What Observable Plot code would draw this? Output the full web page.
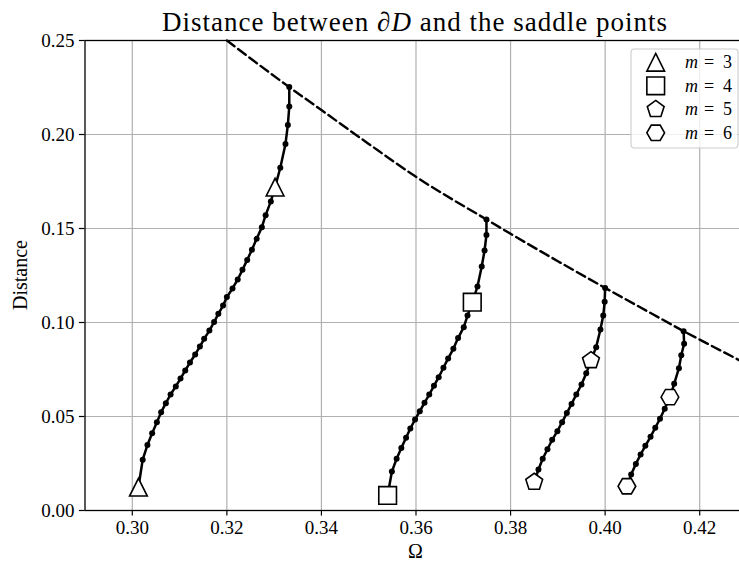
<!DOCTYPE html>
<html><head><meta charset="utf-8">
<script src="https://cdn.jsdelivr.net/npm/d3@7"></script>
<script src="https://cdn.jsdelivr.net/npm/@observablehq/plot@0.6"></script>
<style>
html,body{margin:0;padding:0;background:#fff;overflow:hidden;width:739px;height:563px;}
#chart{position:relative;width:739px;height:563px;overflow:hidden;}
#chart svg{max-width:none !important;width:760px !important;height:563px !important;display:block;}
</style></head><body><div id="chart"></div>
<script>
// ---- data ----
const omega3 = [0.3013,0.3022,0.3032,0.3042,0.3052,0.3061,0.3071,0.3081,0.3092,0.3102,0.3112,0.3122,0.3133,0.3143,0.3152,0.3163,0.3173,0.3182,0.3192,0.3200,0.3212,0.3223,0.3233,0.3243,0.3253,0.3263,0.3274,0.3282,0.3293,0.3302,0.3313,0.3324,0.3329,0.3332,0.3332];
const dist3  = [0.0124,0.0270,0.0348,0.0411,0.0470,0.0523,0.0571,0.0617,0.0660,0.0702,0.0745,0.0787,0.0830,0.0872,0.0913,0.0957,0.1002,0.1046,0.1090,0.1135,0.1181,0.1229,0.1280,0.1333,0.1387,0.1445,0.1507,0.1571,0.1644,0.1720,0.1823,0.1950,0.2051,0.2149,0.2252];
const omega4 = [0.3540,0.3549,0.3559,0.3569,0.3579,0.3588,0.3598,0.3608,0.3618,0.3628,0.3638,0.3648,0.3658,0.3668,0.3679,0.3689,0.3701,0.3709,0.3719,0.3730,0.3739,0.3745,0.3749,0.3749];
const dist4  = [0.0080,0.0207,0.0275,0.0333,0.0387,0.0436,0.0484,0.0528,0.0573,0.0617,0.0663,0.0709,0.0759,0.0809,0.0860,0.0917,0.0975,0.1037,0.1108,0.1191,0.1298,0.1383,0.1466,0.1548];
const omega5 = [0.3850,0.3859,0.3868,0.3878,0.3888,0.3899,0.3909,0.3919,0.3929,0.3939,0.3950,0.3960,0.3970,0.3981,0.3990,0.3996,0.3999,0.4000];
const dist5  = [0.0151,0.0218,0.0275,0.0326,0.0376,0.0422,0.0470,0.0518,0.0567,0.0617,0.0670,0.0730,0.0798,0.0869,0.0963,0.1037,0.1110,0.1184];
const omega6 = [0.4046,0.4055,0.4065,0.4075,0.4085,0.4096,0.4106,0.4116,0.4126,0.4137,0.4146,0.4156,0.4161,0.4167,0.4166];
const dist6  = [0.0129,0.0191,0.0248,0.0298,0.0344,0.0392,0.0440,0.0488,0.0541,0.0603,0.0674,0.0757,0.0826,0.0887,0.0954];

const markOmega3 = [0.3013,0.3302], markDist3 = [0.0124,0.1720];
const markOmega4 = [0.3540,0.3719], markDist4 = [0.0080,0.1108];
const markOmega5 = [0.3850,0.3970], markDist5 = [0.0151,0.0798];
const markOmega6 = [0.4046,0.4137], markDist6 = [0.0129,0.0603];

const boundaryOmega = [0.32,0.3332,0.34,0.35,0.36,0.3749,0.38,0.39,0.40,0.41,0.4166,0.42,0.43];
const boundaryDist  = [0.2500,0.2252,0.2130,0.1950,0.1775,0.1548,0.1472,0.1326,0.1184,0.1045,0.0954,0.0909,0.0778];

const mValues = [3,4,5,6];
const legendLabels = ["3","4","5","6"];
const xTicks = [0.30,0.32,0.34,0.36,0.38,0.40,0.42];
const yTicks = [0.00,0.05,0.10,0.15,0.20,0.25];

// ---- shapes (matplotlib-like markers) ----
const kinds = ["triangle","square","pentagon","hexagon"];
function shapePath(ctx, kind, r){
  if(kind==="triangle"){ ctx.moveTo(0,-r); ctx.lineTo(r,r); ctx.lineTo(-r,r); ctx.closePath(); }
  else if(kind==="square"){ ctx.moveTo(-r,-r); ctx.lineTo(r,-r); ctx.lineTo(r,r); ctx.lineTo(-r,r); ctx.closePath(); }
  else if(kind==="pentagon"){
    for(let i=0;i<5;i++){const a=-Math.PI/2+i*2*Math.PI/5; const px=r*Math.cos(a), py=r*Math.sin(a); i?ctx.lineTo(px,py):ctx.moveTo(px,py);} ctx.closePath();
  } else {
    for(let i=0;i<6;i++){const a=i*Math.PI/3; const px=r*Math.cos(a), py=r*Math.sin(a); i?ctx.lineTo(px,py):ctx.moveTo(px,py);} ctx.closePath();
  }
}
const makeSymbol = kind => ({draw(ctx,size){ shapePath(ctx, kind, Math.sqrt(size/Math.PI)); }});

// ---- tables ----
const curveCols = [[omega3,dist3],[omega4,dist4],[omega5,dist5],[omega6,dist6]];
const markCols = [[markOmega3,markDist3],[markOmega4,markDist4],[markOmega5,markDist5],[markOmega6,markDist6]];
const curveRows = curveCols.flatMap(([o,d],k)=>o.map((v,i)=>({m:mValues[k],omega:v,dist:d[i]})));
const markRows = markCols.map(([o,d],k)=>o.map((v,i)=>({m:mValues[k],omega:v,dist:d[i]})));
const boundaryRows = boundaryOmega.map((v,i)=>({omega:v,dist:boundaryDist[i]}));

const FONT = "'Liberation Serif', 'DejaVu Serif', serif";
const R = 8.85;

const svg = Plot.plot({
  width: 760, height: 563,
  marginLeft: 84.5, marginRight: 13.5, marginTop: 40, marginBottom: 53,
  style: {fontFamily: FONT, fontSize: "19px", background: "white", color: "black", maxWidth: "none"},
  x: {domain: [0.29, 0.43]},
  y: {domain: [0, 0.25]},
  marks: [
    Plot.gridX(xTicks, {stroke: "#b0b0b0", strokeOpacity: 1, strokeWidth: 1.2}),
    Plot.gridY(yTicks, {stroke: "#b0b0b0", strokeOpacity: 1, strokeWidth: 1.2}),
    Plot.line(boundaryRows, {x: "omega", y: "dist", stroke: "black", strokeWidth: 2.4, strokeDasharray: "9.5,4.5", curve: "monotone-x"}),
    Plot.line(curveRows, {x: "omega", y: "dist", z: "m", stroke: "black", strokeWidth: 2.5}),
    Plot.dot(curveRows, {x: "omega", y: "dist", r: 3.0, fill: "black"}),
    ...markRows.map((rows,k)=>Plot.dot(rows, {x: "omega", y: "dist", symbol: makeSymbol(kinds[k]), r: R, fill: "white", stroke: "black", strokeWidth: 1.6})),
    Plot.axisX(xTicks, {tickFormat: d3.format(".2f"), tickSize: 5.6, tickPadding: 4, label: null, fontSize: 19, strokeWidth: 1.2}),
    Plot.axisY(yTicks, {tickFormat: d3.format(".2f"), tickSize: 5.6, tickPadding: 5, label: null, fontSize: 19, strokeWidth: 1.2}),
    Plot.frame({stroke: "black", strokeWidth: 1.3})
  ]
});
document.getElementById("chart").appendChild(svg);

const s = d3.select(svg);
// title
const t = s.append("text").attr("x", 162).attr("y", 31).attr("text-anchor","start").attr("font-size", 27).attr("font-family", FONT).attr("fill","black")
  .attr("textLength", 505).attr("lengthAdjust", "spacing");
t.append("tspan").text("Distance between \u2202");
t.append("tspan").attr("font-style","italic").text("D");
t.append("tspan").text(" and the saddle points");
// axis labels
s.append("text").attr("x", 415.5).attr("y", 558).attr("text-anchor","middle").attr("font-size", 20).attr("font-family", FONT).text("\u03A9");
s.append("text").attr("transform","translate(27,275) rotate(-90)").attr("text-anchor","middle").attr("font-size", 20).attr("font-family", FONT).text("Distance");
// legend
const lg = s.append("g");
lg.append("rect").attr("x",631).attr("y",49).attr("width",107).attr("height",99).attr("rx",3.5)
  .attr("fill","white").attr("fill-opacity",0.8).attr("stroke","#cccccc").attr("stroke-width",1.1);
kinds.forEach((kind,i)=>{
  const cy = 62.3 + i*23.5;
  const p = d3.path(); shapePath(p, kind, R);
  lg.append("path").attr("transform",`translate(655.7,${cy})`).attr("d", p.toString()).attr("fill","white").attr("stroke","black").attr("stroke-width",1.6);
  const tx = lg.append("text").attr("y", cy+6).attr("text-anchor","start").attr("font-size",18).attr("font-family",FONT);
  tx.append("tspan").attr("x",685).attr("font-style","italic").text("m");
  tx.append("tspan").attr("x",704).text("=");
  tx.append("tspan").attr("x",723).text(legendLabels[i]);
});
</script></body></html>
